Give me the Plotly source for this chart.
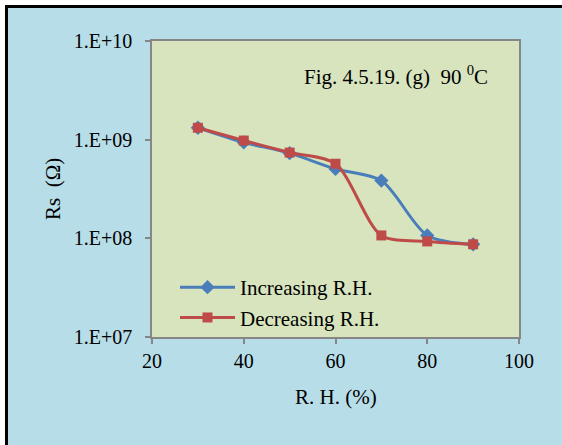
import plotly.graph_objects as go

rh = [30, 40, 50, 60, 70, 80, 90]
rs_increasing = [1.32e9, 9.4e8, 7.3e8, 5.05e8, 3.85e8, 1.07e8, 8.7e7]
rs_decreasing = [1.32e9, 9.8e8, 7.4e8, 5.7e8, 1.07e8, 9.3e7, 8.7e7]
y_tickvals = [1e7, 1e8, 1e9, 1e10]
y_ticktext = ["1.E+07", "1.E+08", "1.E+09", "1.E+10"]
x_tickvals = [20, 40, 60, 80, 100]

FONT = "Liberation Serif, Times New Roman, serif"
W, H = 562, 445
L, R, T, B = 152, 43, 41, 108
pw, ph = W - L - R, H - T - B

def px(x):
    return (x - L) / pw

def py(y):
    return (H - B - y) / ph

fig = go.Figure()
fig.add_trace(go.Scatter(
    x=rh, y=rs_increasing, name="Increasing R.H.", mode="lines+markers",
    line=dict(color="#4A7EBB", width=3, shape="spline", smoothing=0.8),
    marker=dict(symbol="diamond", size=11, color="#4A7EBB"),
))
fig.add_trace(go.Scatter(
    x=rh, y=rs_decreasing, name="Decreasing R.H.", mode="lines+markers",
    line=dict(color="#BE4B48", width=3, shape="spline", smoothing=0.8),
    marker=dict(symbol="square", size=10, color="#BE4B48"),
))

axis_common = dict(
    showline=True, linecolor="#868686", linewidth=1.5, mirror=True,
    ticks="outside", ticklen=5, tickcolor="#868686", tickwidth=1.5,
    showgrid=False, zeroline=False,
    tickfont=dict(family=FONT, size=20, color="black"),
)

BG = "#B7DDE8"

fig.update_layout(
    width=W, height=H,
    margin=dict(l=L, r=R, t=T, b=B, pad=0),
    paper_bgcolor=BG, plot_bgcolor="#D7E4BD",
    font=dict(family=FONT, size=21, color="black"),
    xaxis=dict(range=[20, 100], tickvals=x_tickvals, **axis_common),
    yaxis=dict(type="log", range=[7, 10], tickvals=y_tickvals, ticktext=y_ticktext,
               ticklabelstandoff=9, **axis_common),
    showlegend=True,
    legend=dict(x=px(175), y=py(267), xanchor="left", yanchor="top",
                bgcolor="rgba(0,0,0,0)", font=dict(family=FONT, size=21),
                itemwidth=55, tracegroupgap=0),
    annotations=[
        dict(text="Fig. 4.5.19. (g)&nbsp; 90 <sup>0</sup>C", xref="paper", yref="paper",
             x=px(302), y=py(76), xanchor="left", yanchor="middle", showarrow=False,
             font=dict(family=FONT, size=21)),
        dict(text="R. H. (%)", xref="paper", yref="paper", x=px(336), y=py(397),
             xanchor="center", yanchor="middle", showarrow=False,
             font=dict(family=FONT, size=21)),
        dict(text="Rs&nbsp; (Ω)", xref="paper", yref="paper", x=px(53), y=py(189),
             xanchor="center", yanchor="middle", showarrow=False, textangle=-90,
             font=dict(family=FONT, size=21)),
    ],
    shapes=[
        dict(type="rect", xref="paper", yref="paper", x0=px(535), x1=px(W + 5), y0=py(8), y1=py(H + 5),
             fillcolor=BG, line=dict(width=0), layer="above"),
        dict(type="rect", xref="paper", yref="paper", x0=px(-5), x1=px(5), y0=py(-5), y1=py(H + 5),
             fillcolor="white", line=dict(width=0)),
        dict(type="rect", xref="paper", yref="paper", x0=px(-5), x1=px(W + 5), y0=py(5), y1=py(-5),
             fillcolor="white", line=dict(width=0)),
        dict(type="line", xref="paper", yref="paper", x0=px(6.5), x1=px(6.5), y0=py(5), y1=py(H + 5),
             line=dict(color="black", width=3)),
        dict(type="line", xref="paper", yref="paper", x0=px(5), x1=px(W + 5), y0=py(6.5), y1=py(6.5),
             line=dict(color="black", width=3)),
    ],
)

post = (
    "var st=document.createElement('style');"
    "st.textContent='html,body{margin:0;padding:0;overflow:hidden;scrollbar-width:none;background:#B7DDE8}"
    " ::-webkit-scrollbar{display:none;width:0;height:0}';"
    "document.head.appendChild(st);"
    "document.body.style.margin='0';"
)

fig.write_html("out.html", config={"displayModeBar": False}, post_script=post)
